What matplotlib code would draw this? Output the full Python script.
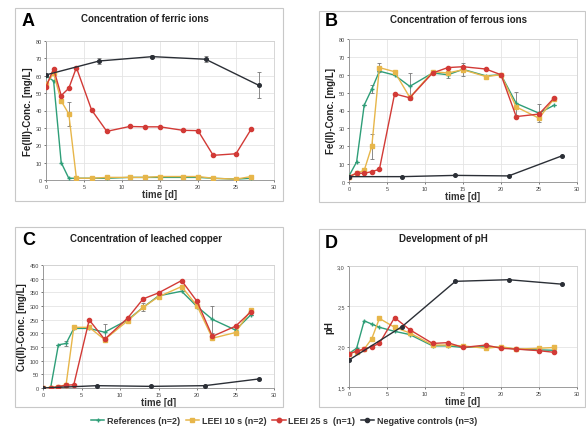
import numpy as np
import matplotlib
matplotlib.use("Agg")
import matplotlib.pyplot as plt
from matplotlib.lines import Line2D
from matplotlib.patches import Rectangle
import matplotlib.ticker as mticker

# ---------------------------------------------------------------- data
t_exp = [0, 1, 2, 3, 4, 6, 8, 11, 13, 15, 18, 20, 22, 25, 27]
t_neg = [0, 7, 14, 21, 28]

# A - ferric ions [mg/L]
fe3_ref  = [60, 57, 10, 1, 1, 1, 1, 1.5, 1.5, 1.5, 1.5, 1.5, 1, 0.5, 1]
fe3_l10  = [55, 61.4, 45.5, 38, 1, 1, 1.5, 1.5, 1.5, 2, 2, 2, 1, 0.5, 2]
fe3_l25  = [53.6, 64, 48.6, 52.8, 64.7, 40.3, 28, 30.8, 30.6, 30.6, 28.6, 28.4, 14.2, 15.1, 29.3]
fe3_neg  = [60.5, 68.5, 71, 69.5, 54.5]
fe3_l10_err = [0, 0, 0, 7, 0, 0, 0, 0, 0, 0, 0, 0, 0, 0, 0]
fe3_neg_err = [0, 1.5, 0.8, 1.6, 7.5]

# B - ferrous ions [mg/L]
fe2_ref  = [3.4, 11.2, 43, 52, 62, 59.8, 53.5, 61, 60, 63, 59.4, 60, 44, 38.5, 43]
fe2_l10  = [3, 5, 6.5, 20, 64, 61.7, 47.3, 61.7, 61, 62.8, 59, 60, 42, 35.7, 46.7]
fe2_l25  = [3, 4.9, 4.9, 5.8, 7.1, 49.3, 47.1, 61, 64, 64.5, 63.2, 60, 36.6, 38, 47.1]
fe2_neg  = [3, 3, 3.7, 3.4, 14.6]
fe2_ref_err = [0, 0, 0, 2, 0, 0, 7.5, 0, 2, 3.5, 0, 0, 6.5, 5, 0]
fe2_l10_err = [0, 0, 0, 7, 2.5, 0, 0, 0, 0, 0, 0, 0, 0, 0, 0]

# C - leached copper [mg/L]
cu_ref  = [0, 2, 158, 163, 218, 218, 204, 249, 295, 337, 354, 298, 251, 212, 268]
cu_l10  = [0, 0, 5, 12, 222, 222, 177, 246, 295, 334, 371, 301, 182, 203, 285]
cu_l25  = [0, 0, 5, 10, 12, 249, 178, 256, 326, 348, 393, 317, 189, 226, 279]
cu_neg  = [0, 8.5, 6, 8.5, 33]
cu_ref_err = [0, 0, 0, 8, 0, 0, 30, 0, 15, 0, 0, 0, 48, 15, 0]

# D - pH
ph_ref  = [1.915, 1.98, 2.32, 2.28, 2.24, 2.19, 2.15, 2.01, 2.01, 1.99, 2.0, 1.99, 1.97, 1.96, 1.955]
ph_l10  = [1.915, 1.94, 1.97, 2.1, 2.35, 2.24, 2.17, 2.02, 2.02, 2.01, 1.98, 2.0, 1.97, 1.98, 1.99]
ph_l25  = [1.91, 1.945, 1.97, 2.0, 2.04, 2.36, 2.21, 2.04, 2.05, 1.99, 2.02, 1.98, 1.97, 1.95, 1.93]
ph_neg  = [1.835, 2.25, 2.81, 2.83, 2.775]

# ---------------------------------------------------------------- style
C_REF = "#2E9E78"
C_L10 = "#E7B64A"
C_L25 = "#D23A36"
C_NEG = "#2B2F36"

plt.rcParams.update({
    "font.family": ["Liberation Sans", "DejaVu Sans"],
    "axes.edgecolor": "#8C8C8C",
    "axes.linewidth": 0.6,
})

W, H = 586, 435
fig = plt.figure(figsize=(W / 100, H / 100), dpi=100)
fig.patch.set_facecolor("white")


def px_axes(left, top, right, bottom):
    return fig.add_axes([left / W, 1 - bottom / H, (right - left) / W, (bottom - top) / H])


def box(left, top, right, bottom):
    fig.add_artist(Rectangle((left / W, 1 - bottom / H), (right - left) / W, (bottom - top) / H,
                             transform=fig.transFigure, fill=False, ec="#C8C8C8", lw=0.8))


def series(ax, t, y, col, marker, ms, err=None, lw=1.0):
    ax.plot(t, y, color=col, lw=lw, marker=marker, ms=ms, mfc=col, mec=col, zorder=3)
    if err is not None:
        ax.errorbar(t, y, yerr=err, fmt="none", ecolor="#777777", elinewidth=0.6,
                    capsize=1.5, capthick=0.6, zorder=2)


def panel(ax, letter, title, ylabel, ymax, ystep, lx, ly, tx, ty, ymin=0, fmt=None):
    ax.set_xlim(0, 30)
    ax.set_ylim(ymin, ymax)
    ax.xaxis.set_major_locator(mticker.MultipleLocator(5))
    ax.yaxis.set_major_locator(mticker.MultipleLocator(ystep))
    if fmt is not None:
        ax.yaxis.set_major_formatter(mticker.FuncFormatter(fmt))
    ax.grid(True, color="#E4E4E4", lw=0.6, zorder=0)
    ax.set_axisbelow(True)
    ax.tick_params(labelsize=4, length=1.5, width=0.5, pad=1.5, colors="#444444")
    for s in ("top", "right"):
        ax.spines[s].set_color("#D0D0D0")
    ax.set_xlabel("time [d]", fontsize=7, fontweight="bold", color="#333333", labelpad=0)
    ax.set_ylabel(ylabel, fontsize=7, fontweight="bold", color="#222222", labelpad=2)
    fig.text(lx / W, 1 - ly / H, letter, fontsize=13, fontweight="bold", ha="left", va="center")
    fig.text(tx / W, 1 - ty / H, title, fontsize=7, fontweight="bold", ha="center", va="center",
             color="#222222")


# ---------------------------------------------------------------- A
box(15, 9, 283, 202)
axA = px_axes(46, 42, 274, 181)
series(axA, t_exp, fe3_ref, C_REF, "+", 3)
series(axA, t_exp, fe3_l10, C_L10, "s", 3.2, fe3_l10_err)
series(axA, t_exp, fe3_l25, C_L25, "o", 3)
series(axA, t_neg, fe3_neg, C_NEG, "o", 2.6, fe3_neg_err)
panel(axA, "A", "Concentration of ferric ions", "Fe(III)-Conc. [mg/L]", 80, 10, 22, 22, 145, 19)

# ---------------------------------------------------------------- B
box(319, 12, 585, 203)
axB = px_axes(349, 40, 577, 183)
series(axB, t_exp, fe2_ref, C_REF, "+", 3, fe2_ref_err)
series(axB, t_exp, fe2_l10, C_L10, "s", 3.2, fe2_l10_err)
series(axB, t_exp, fe2_l25, C_L25, "o", 3)
series(axB, t_neg, fe2_neg, C_NEG, "o", 2.6)
panel(axB, "B", "Concentration of ferrous ions", "Fe(II)-Conc. [mg/L]", 80, 10, 325, 22, 459, 20)

# ---------------------------------------------------------------- C
box(15, 228, 283, 408)
axC = px_axes(43, 266, 274, 389)
series(axC, t_exp, cu_ref, C_REF, "+", 3, cu_ref_err)
series(axC, t_exp, cu_l10, C_L10, "s", 3.2)
series(axC, t_exp, cu_l25, C_L25, "o", 3)
series(axC, t_neg, cu_neg, C_NEG, "o", 2.6)
panel(axC, "C", "Concentration of leached copper", "Cu(II)-Conc. [mg/L]", 450, 50, 22, 241, 146, 239)

# ---------------------------------------------------------------- D
box(319, 230, 585, 408)
axD = px_axes(349, 267, 577, 388)
series(axD, t_exp, ph_ref, C_REF, "+", 3)
series(axD, t_exp, ph_l10, C_L10, "s", 3.2)
series(axD, t_exp, ph_l25, C_L25, "o", 3)
series(axD, t_neg, ph_neg, C_NEG, "o", 2.6)
panel(axD, "D", "Development of pH", "pH", 3.0, 0.5, 325, 244, 443, 239, ymin=1.5,
      fmt=lambda v, p: f"{v:.1f}".replace(".", ","))

# ---------------------------------------------------------------- legend
labels = ["References (n=2)", "LEEI 10 s (n=2)", "LEEI 25 s  (n=1)", "Negative controls (n=3)"]
handles = [
    Line2D([], [], color=C_REF, marker="+", ms=3.5, lw=1.1),
    Line2D([], [], color=C_L10, marker="s", ms=3.5, lw=1.1),
    Line2D([], [], color=C_L25, marker="o", ms=3.2, lw=1.1),
    Line2D([], [], color=C_NEG, marker="o", ms=3.0, lw=1.1),
]
leg = fig.legend(handles, labels, loc="center", bbox_to_anchor=(284 / W, 1 - 422 / H), ncol=4,
                 frameon=False, handlelength=1.5, handletextpad=0.3,
                 columnspacing=0.6, prop={"weight": "bold", "size": 6.5})
for txt in leg.get_texts():
    txt.set_color("#333333")

fig.savefig("out.png", dpi=100, facecolor="white")
